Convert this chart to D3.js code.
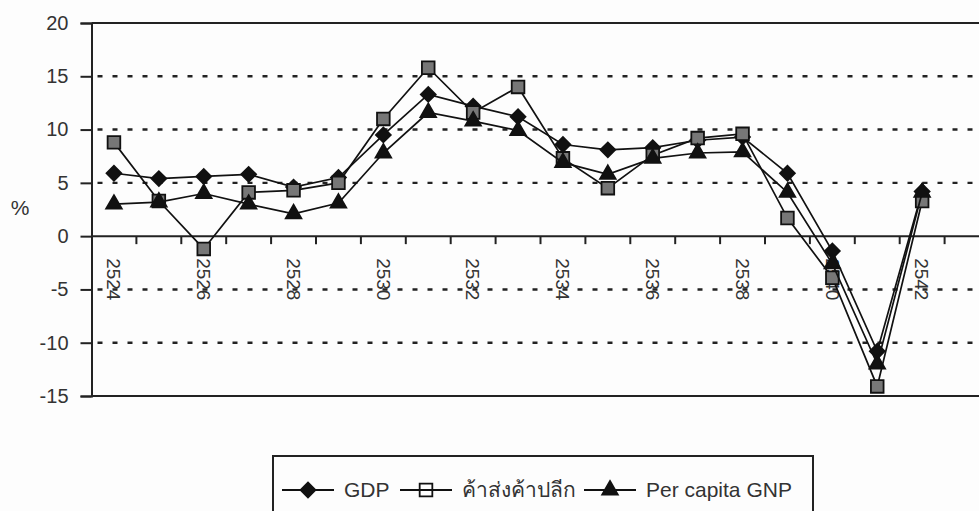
<!DOCTYPE html>
<html lang="th">
    <head>
        <meta charset="utf-8">
        <title>GDP growth</title>
        <script type="text/javascript" src="https://d3js.org/d3.v7.min.js"></script>
        <style type="text/css">
            body { margin: 0; background: #fdfdfd; }
            text {
                font-family: "Liberation Sans", Arial, sans-serif;
                fill: #333;
            }
        </style>
    </head>
    <body>
        <script type="text/javascript">

        // Size
        var w = 979;
        var h = 511;

        // Data
        var years = ["2524","2525","2526","2527","2528","2529","2530","2531","2532","2533",
                     "2534","2535","2536","2537","2538","2539","2540","2541","2542"];
        var gdp       = [5.9, 5.4, 5.6, 5.8, 4.6, 5.5, 9.5, 13.3, 12.2, 11.2, 8.6, 8.1, 8.3, 9.0, 9.3, 5.9, -1.4, -10.8, 4.2];
        var wholesale = [8.8, 3.3, -1.2, 4.1, 4.3, 5.0, 11.0, 15.8, 11.6, 14.0, 7.3, 4.5, 7.6, 9.2, 9.6, 1.7, -3.9, -14.1, 3.3];
        var gnp       = [3.0, 3.2, 4.0, 3.0, 2.1, 3.1, 7.8, 11.6, 10.8, 9.9, 6.9, 5.8, 7.3, 7.8, 7.9, 4.1, -2.6, -12.0, 4.1];
        var yTicks = [-15, -10, -5, 0, 5, 10, 15, 20];
        var seriesNames = ["GDP", "ค้าส่งค้าปลีก", "Per capita GNP"];

        // Scales
        var step = 44.9;
        var x0 = 91.5;
        var x = d3.scaleBand()
                  .domain(years)
                  .range([x0, x0 + years.length * step]);
        var plotRight = x0 + (years.length + 1) * step;   // plot runs past the window edge

        var y = d3.scaleLinear()
                  .domain([-15, 20])
                  .range([396, 23]);

        function cx(d) { return x(d) + x.bandwidth() / 2; }

        var svg = d3.select("body")
                    .append("svg")
                    .attr("width", w)
                    .attr("height", h);

        // Dashed grid
        svg.selectAll("line.grid")
            .data(yTicks.filter(function(v){ return v != 0 && v != 20 && v != -15; }))
            .enter()
            .append("line")
            .attr("class", "grid")
            .attr("x1", x0).attr("x2", plotRight)
            .attr("y1", function(d){ return y(d); })
            .attr("y2", function(d){ return y(d); })
            .attr("stroke", "#222")
            .attr("stroke-width", 2.4)
            .attr("stroke-dasharray", "5,10")
            .attr("stroke-dashoffset", -6);

        // Top / bottom border
        [20, -15].forEach(function(v){
            svg.append("line")
                .attr("x1", x0).attr("x2", plotRight)
                .attr("y1", y(v)).attr("y2", y(v))
                .attr("stroke", "#222")
                .attr("stroke-width", 2);
        });

        // Y axis
        var yAxis = d3.axisLeft(y)
                      .tickValues(yTicks)
                      .tickSize(11)
                      .tickPadding(12)
                      .tickFormat(function(d){ return String(d); });
        var gy = svg.append("g")
                    .attr("transform", "translate(" + x0 + ",0)")
                    .call(yAxis);
        gy.select(".domain").attr("stroke", "#222").attr("stroke-width", 2);
        gy.selectAll(".tick line").attr("stroke", "#222").attr("stroke-width", 2);
        gy.selectAll(".tick text")
            .style("font-size", "20px")
            .attr("fill", "#333");

        // Category axis on zero line
        var xAxis = d3.axisBottom(x)
                      .tickSize(0)
                      .tickFormat(function(d, i){ return i % 2 == 0 ? d : ""; });
        var gx = svg.append("g")
                    .attr("transform", "translate(0," + y(0) + ")")
                    .call(xAxis);
        gx.select(".domain")
            .attr("d", "M" + x0 + ",0H" + plotRight)
            .attr("stroke", "#222")
            .attr("stroke-width", 2);
        gx.selectAll(".tick text")
            .style("font-size", "19px")
            .attr("text-anchor", "start")
            .attr("dy", "0.35em")
            .attr("transform", "translate(0,22) rotate(90)")
            .attr("y", 0)
            .attr("x", 0);

        // Tick marks between categories
        svg.selectAll("line.xtick")
            .data(years.slice(1).concat(["end"]))
            .enter()
            .append("line")
            .attr("class", "xtick")
            .attr("x1", function(d, i){ return x0 + (i + 1) * step; })
            .attr("x2", function(d, i){ return x0 + (i + 1) * step; })
            .attr("y1", y(0))
            .attr("y2", y(0) + 8)
            .attr("stroke", "#222")
            .attr("stroke-width", 2);

        // "%" label
        svg.append("text")
            .attr("x", 20)
            .attr("y", 215)
            .attr("text-anchor", "middle")
            .style("font-size", "21px")
            .text("%");

        // Markers
        var diamond = d3.symbol().type(d3.symbolSquare).size(110);
        var square = d3.symbol().type(d3.symbolSquare).size(160);
        var triangle = d3.symbol().type(d3.symbolTriangle).size(105);

        var series = [
            { name: seriesNames[0], values: gdp, sym: diamond, rot: 45, fill: "#111", lfill: "#111" },
            { name: seriesNames[1], values: wholesale, sym: square, rot: 0, fill: "#777", lfill: "#fff" },
            { name: seriesNames[2], values: gnp, sym: triangle, rot: 0, fill: "#111", lfill: "#111" }
        ];

        var line = d3.line()
                     .x(function(d){ return cx(d.year); })
                     .y(function(d){ return y(d.value); });

        series.forEach(function(s){
            var pts = years.map(function(yr, i){ return { year: yr, value: s.values[i] }; });
            svg.append("path")
                .datum(pts)
                .attr("d", line)
                .attr("fill", "none")
                .attr("stroke", "#111")
                .attr("stroke-width", 1.7);
            svg.selectAll(null)
                .data(pts)
                .enter()
                .append("path")
                .attr("d", s.sym)
                .attr("transform", function(d){
                    return "translate(" + cx(d.year) + "," + y(d.value) + ") rotate(" + s.rot + ")";
                })
                .attr("fill", s.fill)
                .attr("stroke", "#111")
                .attr("stroke-width", 1.8);
        });

        // Legend
        var legend = svg.append("g");
        legend.append("rect")
            .attr("x", 273).attr("y", 456)
            .attr("width", 540).attr("height", 80)
            .attr("fill", "none")
            .attr("stroke", "#222")
            .attr("stroke-width", 2);

        var legendX = [282, 400, 584];
        var legendY = 490;
        series.forEach(function(s, i){
            var g = legend.append("g")
                          .attr("transform", "translate(" + legendX[i] + "," + legendY + ")");
            g.append("line")
                .attr("x1", 0).attr("x2", 52)
                .attr("stroke", "#111")
                .attr("stroke-width", 2);
            g.append("path")
                .attr("d", s.sym)
                .attr("transform", "translate(26,0) rotate(" + s.rot + ")")
                .attr("fill", s.lfill)
                .attr("stroke", "#111")
                .attr("stroke-width", 1.8);
            if (i == 1) {
                g.append("line")
                    .attr("x1", 20).attr("x2", 32)
                    .attr("stroke", "#111")
                    .attr("stroke-width", 2);
            }
            g.append("text")
                .attr("x", 62)
                .attr("y", 0)
                .attr("dy", "0.35em")
                .style("font-size", "21px")
                .text(s.name);
        });

        </script>
    </body>
</html>
